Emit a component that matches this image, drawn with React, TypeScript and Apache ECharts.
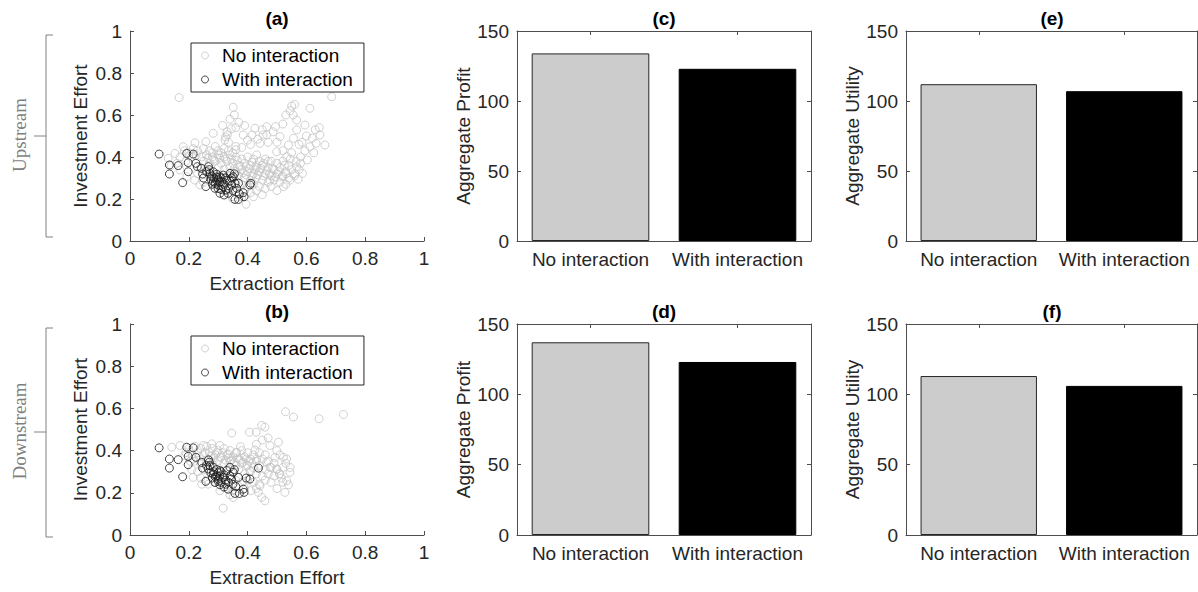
import React, { useEffect, useRef } from "react";
import * as echarts from "echarts";

// ---------- DATA ----------
const categories = ["No interaction", "With interaction"];
const profitUpstream = [134, 123];
const profitDownstream = [137, 123];
const utilityUpstream = [112, 107];
const utilityDownstream = [113, 106];
const effortTicks = [0, 0.2, 0.4, 0.6, 0.8, 1];
const aggregateTicks = [0, 50, 100, 150];

// (a) Upstream, no interaction [extraction, investment]
const upstreamNoInteraction = [
  [0.167, 0.683], [0.686, 0.687], [0.351, 0.637], [0.612, 0.632], [0.55, 0.643], [0.545, 0.62], [0.56, 0.65],
  [0.34, 0.58], [0.315, 0.55], [0.39, 0.55], [0.425, 0.537], [0.465, 0.544], [0.487, 0.52], [0.52, 0.557],
  [0.567, 0.576], [0.595, 0.552], [0.644, 0.54], [0.646, 0.505], [0.663, 0.457], [0.567, 0.529], [0.556, 0.489],
  [0.539, 0.457], [0.51, 0.497], [0.453, 0.505], [0.442, 0.465], [0.331, 0.505], [0.323, 0.481], [0.283, 0.513],
  [0.258, 0.473], [0.221, 0.468], [0.181, 0.449], [0.153, 0.417], [0.13, 0.394], [0.431, 0.41], [0.499, 0.425],
  [0.533, 0.402], [0.567, 0.354], [0.603, 0.386], [0.612, 0.449], [0.633, 0.465], [0.516, 0.306], [0.522, 0.259],
  [0.544, 0.29], [0.572, 0.294], [0.587, 0.322], [0.476, 0.29], [0.42, 0.211], [0.395, 0.175], [0.346, 0.211],
  [0.238, 0.267], [0.193, 0.306], [0.17, 0.338],
  [0.33, 0.52], [0.325, 0.495], [0.335, 0.47], [0.36, 0.45], [0.38, 0.445], [0.4, 0.48], [0.41, 0.46], [0.47, 0.47],
  [0.5, 0.47], [0.52, 0.43], [0.55, 0.42], [0.58, 0.4], [0.6, 0.5], [0.63, 0.53], [0.575, 0.46], [0.495, 0.545],
  [0.45, 0.53], [0.36, 0.54], [0.29, 0.45], [0.27, 0.43], [0.3, 0.43], [0.32, 0.44], [0.35, 0.42], [0.23, 0.43],
  [0.2, 0.42], [0.21, 0.4], [0.17, 0.4], [0.19, 0.38], [0.16, 0.37], [0.14, 0.36],
  [0.26, 0.41], [0.28, 0.4], [0.3, 0.41], [0.32, 0.4], [0.34, 0.41], [0.36, 0.4], [0.38, 0.39], [0.4, 0.4],
  [0.42, 0.39], [0.44, 0.38], [0.46, 0.39], [0.48, 0.38], [0.5, 0.37], [0.52, 0.38], [0.54, 0.36],
  [0.25, 0.38], [0.27, 0.37], [0.29, 0.38], [0.31, 0.37], [0.33, 0.38], [0.35, 0.37], [0.37, 0.36], [0.39, 0.37],
  [0.41, 0.36], [0.43, 0.35], [0.45, 0.36], [0.47, 0.35], [0.49, 0.34], [0.51, 0.35], [0.53, 0.33], [0.55, 0.34],
  [0.24, 0.35], [0.26, 0.34], [0.3, 0.35], [0.32, 0.34], [0.34, 0.35], [0.36, 0.33], [0.38, 0.34], [0.4, 0.33],
  [0.42, 0.32], [0.44, 0.33], [0.46, 0.32], [0.48, 0.31], [0.5, 0.32], [0.52, 0.31], [0.54, 0.3], [0.56, 0.31],
  [0.23, 0.32], [0.27, 0.31], [0.33, 0.31], [0.35, 0.3], [0.37, 0.31], [0.39, 0.3], [0.41, 0.29], [0.43, 0.3],
  [0.45, 0.29], [0.47, 0.28], [0.49, 0.29], [0.51, 0.28], [0.53, 0.27],
  [0.25, 0.28], [0.29, 0.27], [0.36, 0.27], [0.38, 0.27], [0.4, 0.26], [0.42, 0.27], [0.44, 0.26], [0.46, 0.25],
  [0.48, 0.26], [0.5, 0.24], [0.22, 0.29], [0.31, 0.25], [0.33, 0.24], [0.37, 0.23], [0.39, 0.24], [0.41, 0.23],
  [0.43, 0.24], [0.45, 0.22], [0.35, 0.2], [0.38, 0.21],
  [0.385, 0.325], [0.395, 0.315], [0.405, 0.345], [0.415, 0.31], [0.425, 0.34], [0.435, 0.315], [0.445, 0.345],
  [0.455, 0.31], [0.465, 0.335], [0.475, 0.32], [0.485, 0.345], [0.495, 0.305], [0.505, 0.33], [0.345, 0.325],
  [0.355, 0.345], [0.365, 0.315], [0.375, 0.355], [0.415, 0.375], [0.43, 0.36], [0.455, 0.37], [0.47, 0.38],
  [0.395, 0.355], [0.365, 0.385], [0.345, 0.39], [0.325, 0.39], [0.305, 0.395], [0.285, 0.39], [0.265, 0.395],
  [0.245, 0.4], [0.225, 0.41], [0.2, 0.405], [0.185, 0.43], [0.215, 0.44], [0.25, 0.44], [0.28, 0.42], [0.31, 0.42],
  [0.335, 0.43], [0.36, 0.435], [0.525, 0.36], [0.545, 0.39], [0.565, 0.38], [0.575, 0.34], [0.56, 0.32], [0.53, 0.32],
  [0.355, 0.6], [0.37, 0.565], [0.345, 0.535], [0.385, 0.505], [0.415, 0.505], [0.435, 0.485], [0.465, 0.505],
  [0.53, 0.6], [0.555, 0.6], [0.585, 0.47], [0.62, 0.49], [0.595, 0.43], [0.625, 0.42], [0.58, 0.37],
];

// (a) Upstream, with interaction
const upstreamWithInteraction = [
  [0.099, 0.414], [0.134, 0.362], [0.134, 0.319], [0.164, 0.359], [0.179, 0.278], [0.193, 0.417], [0.215, 0.414],
  [0.198, 0.373], [0.198, 0.33], [0.224, 0.37], [0.229, 0.354], [0.243, 0.346], [0.247, 0.319], [0.267, 0.354],
  [0.272, 0.322], [0.278, 0.31], [0.258, 0.259], [0.283, 0.283], [0.295, 0.29], [0.3, 0.267], [0.289, 0.251],
  [0.306, 0.306], [0.312, 0.283], [0.317, 0.259], [0.326, 0.243], [0.334, 0.227], [0.34, 0.322], [0.351, 0.306],
  [0.357, 0.275], [0.346, 0.267], [0.363, 0.251], [0.369, 0.275], [0.329, 0.29], [0.317, 0.314], [0.295, 0.318],
  [0.283, 0.33], [0.357, 0.198], [0.369, 0.198], [0.372, 0.224], [0.385, 0.23], [0.388, 0.211], [0.408, 0.267],
  [0.411, 0.275], [0.306, 0.227], [0.32, 0.219],
  [0.285, 0.3], [0.29, 0.275], [0.3, 0.295], [0.305, 0.28], [0.31, 0.3], [0.295, 0.305], [0.275, 0.295],
  [0.28, 0.27], [0.32, 0.27], [0.325, 0.3], [0.335, 0.25], [0.34, 0.285], [0.35, 0.24], [0.31, 0.245],
  [0.3, 0.25], [0.27, 0.34], [0.26, 0.33], [0.25, 0.3], [0.355, 0.32], [0.345, 0.3],
];

// (b) Downstream, no interaction
const downstreamNoInteraction = [
  [0.529, 0.584], [0.556, 0.559], [0.643, 0.551], [0.726, 0.571], [0.448, 0.519], [0.459, 0.511], [0.406, 0.487],
  [0.429, 0.487], [0.346, 0.483], [0.505, 0.44], [0.476, 0.424], [0.425, 0.403], [0.376, 0.419], [0.499, 0.4],
  [0.522, 0.368], [0.533, 0.36], [0.493, 0.368], [0.465, 0.344], [0.544, 0.297], [0.499, 0.313], [0.508, 0.289],
  [0.533, 0.257], [0.539, 0.238], [0.527, 0.202], [0.442, 0.233], [0.448, 0.178], [0.459, 0.162], [0.437, 0.202],
  [0.351, 0.178], [0.317, 0.127], [0.278, 0.432], [0.306, 0.424], [0.25, 0.424], [0.17, 0.424], [0.142, 0.416],
  [0.187, 0.376], [0.215, 0.273], [0.244, 0.241], [0.266, 0.241], [0.306, 0.21], [0.397, 0.329], [0.408, 0.305],
  [0.476, 0.321], [0.431, 0.36], [0.363, 0.392], [0.334, 0.384], [0.306, 0.368],
  [0.2, 0.41], [0.22, 0.42], [0.24, 0.41], [0.26, 0.42], [0.28, 0.41], [0.3, 0.4], [0.32, 0.41], [0.34, 0.4],
  [0.36, 0.39], [0.38, 0.4], [0.4, 0.39], [0.42, 0.38], [0.44, 0.39], [0.46, 0.38],
  [0.19, 0.39], [0.21, 0.38], [0.23, 0.39], [0.25, 0.38], [0.27, 0.39], [0.29, 0.38], [0.31, 0.37], [0.33, 0.38],
  [0.35, 0.37], [0.37, 0.36], [0.39, 0.37], [0.41, 0.36], [0.43, 0.35], [0.45, 0.36], [0.47, 0.35], [0.49, 0.34],
  [0.22, 0.35], [0.24, 0.34], [0.26, 0.35], [0.28, 0.34], [0.3, 0.35], [0.32, 0.34], [0.34, 0.35], [0.36, 0.33],
  [0.38, 0.34], [0.4, 0.33], [0.42, 0.32], [0.44, 0.33], [0.46, 0.31], [0.48, 0.32], [0.5, 0.31], [0.52, 0.32],
  [0.21, 0.31], [0.23, 0.3], [0.25, 0.31], [0.27, 0.3], [0.33, 0.31], [0.35, 0.3], [0.37, 0.31], [0.39, 0.29],
  [0.41, 0.3], [0.43, 0.29], [0.45, 0.28], [0.47, 0.29], [0.49, 0.28], [0.51, 0.29],
  [0.24, 0.27], [0.26, 0.26], [0.29, 0.25], [0.31, 0.26], [0.34, 0.27], [0.36, 0.26], [0.38, 0.25], [0.4, 0.26],
  [0.42, 0.25], [0.44, 0.24], [0.46, 0.26], [0.48, 0.25],
  [0.33, 0.22], [0.35, 0.21], [0.37, 0.23], [0.39, 0.22], [0.41, 0.21], [0.43, 0.22], [0.34, 0.19],
  [0.355, 0.345], [0.365, 0.365], [0.375, 0.355], [0.385, 0.345], [0.395, 0.36], [0.405, 0.35], [0.415, 0.34],
  [0.345, 0.355], [0.335, 0.365], [0.325, 0.355], [0.315, 0.39], [0.295, 0.39], [0.285, 0.365], [0.275, 0.375],
  [0.265, 0.36], [0.255, 0.39], [0.235, 0.37], [0.215, 0.36], [0.205, 0.35], [0.45, 0.45], [0.43, 0.43],
  [0.47, 0.46], [0.51, 0.38], [0.53, 0.34], [0.545, 0.32], [0.515, 0.27], [0.5, 0.22], [0.52, 0.25],
];

// (b) Downstream, with interaction
const downstreamWithInteraction = [
  [0.099, 0.413], [0.134, 0.36], [0.134, 0.317], [0.164, 0.357], [0.179, 0.276], [0.193, 0.416], [0.215, 0.413],
  [0.198, 0.373], [0.198, 0.333], [0.224, 0.368], [0.267, 0.356], [0.244, 0.344], [0.247, 0.317], [0.272, 0.329],
  [0.258, 0.254], [0.283, 0.289], [0.295, 0.281], [0.3, 0.265], [0.289, 0.249], [0.306, 0.305], [0.317, 0.273],
  [0.326, 0.241], [0.334, 0.217], [0.34, 0.321], [0.351, 0.297], [0.369, 0.273], [0.357, 0.197], [0.372, 0.197],
  [0.385, 0.217], [0.388, 0.202], [0.408, 0.265], [0.437, 0.317], [0.306, 0.238], [0.32, 0.227], [0.283, 0.321],
  [0.329, 0.305], [0.266, 0.313],
  [0.285, 0.3], [0.29, 0.275], [0.3, 0.295], [0.305, 0.28], [0.31, 0.3], [0.295, 0.31], [0.275, 0.295],
  [0.28, 0.27], [0.32, 0.285], [0.325, 0.26], [0.335, 0.25], [0.34, 0.28], [0.35, 0.24], [0.31, 0.25],
  [0.3, 0.255], [0.27, 0.345], [0.26, 0.33], [0.345, 0.265], [0.355, 0.31], [0.36, 0.23], [0.395, 0.27],
];

// ---------- STYLE ----------
const FONT = "Arial, 'Liberation Sans', Helvetica, sans-serif";
const SERIF = "'Times New Roman', 'Liberation Serif', serif";
const FS = 19;
const TXT = "#262626";
const AXIS = "#4d4d4d";
const GRAY_MARK = "#c4c4c4";
const GRAY_BAR = "#cccccc";

const rows = [31, 324];
const rowH = [210, 211];
const cols = [
  { left: 130, width: 294 },
  { left: 517, width: 294 },
  { left: 906, width: 291 },
];

function labelStyle(margin: number) {
  return { fontSize: FS, color: TXT, fontFamily: FONT, margin, interval: 0, hideOverlap: false };
}

function App() {
  const ref = useRef<HTMLDivElement>(null);

  useEffect(() => {
    if (!ref.current) return;
    const chart = echarts.init(ref.current, null, { renderer: "svg" });

    const grids: any[] = [];
    const xAxes: any[] = [];
    const yAxes: any[] = [];
    const series: any[] = [];

    const scatterSets = [
      [upstreamNoInteraction, upstreamWithInteraction],
      [downstreamNoInteraction, downstreamWithInteraction],
    ];
    scatterSets.forEach((sets, r) => {
      const gi = grids.length;
      grids.push({ left: cols[0].left, top: rows[r], width: cols[0].width, height: rowH[r] });
      const xi = xAxes.length;
      xAxes.push({
        gridIndex: gi, type: "value", min: effortTicks[0], max: effortTicks[effortTicks.length - 1],
        interval: effortTicks[1] - effortTicks[0],
        name: "Extraction Effort", nameLocation: "middle", nameGap: 33,
        nameTextStyle: { fontSize: FS, color: TXT, fontFamily: FONT },
        axisLine: { show: true, onZero: false, lineStyle: { color: AXIS } },
        axisTick: { show: true, inside: true, length: 4, lineStyle: { color: AXIS } },
        axisLabel: { fontSize: FS, color: TXT, fontFamily: FONT, margin: 8 }, splitLine: { show: false },
      });
      const yi = yAxes.length;
      yAxes.push({
        gridIndex: gi, type: "value", min: effortTicks[0], max: effortTicks[effortTicks.length - 1],
        interval: effortTicks[1] - effortTicks[0],
        name: "Investment Effort", nameLocation: "middle", nameGap: 40,
        nameTextStyle: { fontSize: FS, color: TXT, fontFamily: FONT },
        axisLine: { show: true, onZero: false, lineStyle: { color: AXIS } },
        axisTick: { show: true, inside: true, length: 4, lineStyle: { color: AXIS } },
        axisLabel: { fontSize: FS, color: TXT, fontFamily: FONT, margin: 8 }, splitLine: { show: false },
      });
      series.push({
        type: "scatter", name: categories[0], xAxisIndex: xi, yAxisIndex: yi, data: sets[0],
        symbol: "circle", symbolSize: 8, silent: true,
        itemStyle: { color: "rgba(255,255,255,0)", borderColor: GRAY_MARK, borderWidth: 1 },
      });
      series.push({
        type: "scatter", name: categories[1], xAxisIndex: xi, yAxisIndex: yi, data: sets[1],
        symbol: "circle", symbolSize: 8, silent: true,
        itemStyle: { color: "rgba(255,255,255,0)", borderColor: "#1a1a1a", borderWidth: 1 },
      });
    });

    const barPanels = [
      { col: 1, row: 0, data: profitUpstream, name: "Aggregate Profit", gap: 43 },
      { col: 1, row: 1, data: profitDownstream, name: "Aggregate Profit", gap: 43 },
      { col: 2, row: 0, data: utilityUpstream, name: "Aggregate Utility", gap: 44 },
      { col: 2, row: 1, data: utilityDownstream, name: "Aggregate Utility", gap: 44 },
    ];
    barPanels.forEach((p) => {
      const gi = grids.length;
      grids.push({ left: cols[p.col].left, top: rows[p.row], width: cols[p.col].width, height: rowH[p.row] });
      const xi = xAxes.length;
      xAxes.push({
        gridIndex: gi, type: "category", data: categories, position: "bottom",
        axisLine: { show: true, onZero: false, lineStyle: { color: AXIS } },
        axisTick: { show: true, inside: true, length: 4, alignWithLabel: true, interval: 0, lineStyle: { color: AXIS } },
        axisLabel: labelStyle(9), splitLine: { show: false },
      });
      xAxes.push({
        gridIndex: gi, type: "category", data: categories, position: "top",
        axisLine: { show: true, onZero: false, lineStyle: { color: AXIS } },
        axisTick: { show: true, inside: true, length: 4, alignWithLabel: true, interval: 0, lineStyle: { color: AXIS } },
        axisLabel: { show: false }, splitLine: { show: false },
      });
      const yi = yAxes.length;
      const yBase = {
        gridIndex: gi, type: "value", min: aggregateTicks[0], max: aggregateTicks[aggregateTicks.length - 1],
        interval: aggregateTicks[1] - aggregateTicks[0], splitLine: { show: false },
        axisLine: { show: true, onZero: false, lineStyle: { color: AXIS } },
        axisTick: { show: true, inside: true, length: 4, lineStyle: { color: AXIS } },
      };
      yAxes.push({
        ...yBase, position: "left", name: p.name, nameLocation: "middle", nameGap: p.gap,
        nameTextStyle: { fontSize: FS, color: TXT, fontFamily: FONT },
        axisLabel: { fontSize: FS, color: TXT, fontFamily: FONT, margin: 8 },
      });
      yAxes.push({ ...yBase, position: "right", axisLabel: { show: false } });
      series.push({
        type: "bar", xAxisIndex: xi, yAxisIndex: yi, barCategoryGap: "20%", silent: true,
        data: p.data.map((v, i) => ({
          value: v,
          itemStyle: i === 0
            ? { color: GRAY_BAR, borderColor: "#262626", borderWidth: 1 }
            : { color: "#000000", borderColor: "#000000", borderWidth: 1 },
        })),
      });
    });

    const legendBase = {
      orient: "vertical", left: 191, itemWidth: 24, itemHeight: 7, itemGap: 5,
      padding: [3, 11, 3, 10], borderColor: "#262626", borderWidth: 1, backgroundColor: "#ffffff",
      textStyle: { fontSize: FS, color: "#000", fontFamily: FONT }, selectedMode: false,
      data: [
        { name: categories[0], icon: "circle", itemStyle: { color: "rgba(255,255,255,0)", borderColor: GRAY_MARK, borderWidth: 1 } },
        { name: categories[1], icon: "circle", itemStyle: { color: "rgba(255,255,255,0)", borderColor: "#1a1a1a", borderWidth: 1 } },
      ],
    };

    const titles = [
      { t: "(a)", x: 277, y: 18 }, { t: "(b)", x: 277, y: 311 },
      { t: "(c)", x: 664, y: 18 }, { t: "(d)", x: 664, y: 311 },
      { t: "(e)", x: 1052, y: 18 }, { t: "(f)", x: 1052, y: 311 },
    ];
    const graphic: any[] = titles.map((o) => ({
      type: "text", x: o.x, y: o.y, silent: true,
      style: {
        text: o.t, font: `bold ${FS}px ${FONT}`, fill: "#000",
        textAlign: "center", textVerticalAlign: "middle", align: "center", verticalAlign: "middle",
      },
    }));
    const brackets = [
      { top: 35, bottom: 237, mid: 136, label: "Upstream" },
      { top: 328, bottom: 537, mid: 432, label: "Downstream" },
    ];
    brackets.forEach((b) => {
      graphic.push({
        type: "polyline", silent: true,
        shape: { points: [[53, b.top], [46, b.top], [46, b.bottom], [53, b.bottom]] },
        style: { stroke: "#808080", lineWidth: 1, fill: null },
      });
      graphic.push({
        type: "line", silent: true,
        shape: { x1: 34, y1: b.mid, x2: 46, y2: b.mid },
        style: { stroke: "#808080", lineWidth: 1 },
      });
      graphic.push({
        type: "text", x: 19, y: b.mid - 1, rotation: Math.PI / 2, silent: true,
        style: {
          text: b.label, font: `19px ${SERIF}`, fill: "#7f7f7f",
          textAlign: "center", textVerticalAlign: "middle", align: "center", verticalAlign: "middle",
        },
      });
    });

    chart.setOption({
      animation: false,
      tooltip: { show: false },
      grid: grids,
      xAxis: xAxes,
      yAxis: yAxes,
      series,
      legend: [
        { ...legendBase, top: 43 },
        { ...legendBase, top: 336 },
      ],
      graphic,
    });

    return () => chart.dispose();
  }, []);

  return (
    <div
      ref={ref}
      style={{ position: "absolute", left: 0, top: 0, width: 1198, height: 592, background: "#fff" }}
    />
  );
}

export default App;
